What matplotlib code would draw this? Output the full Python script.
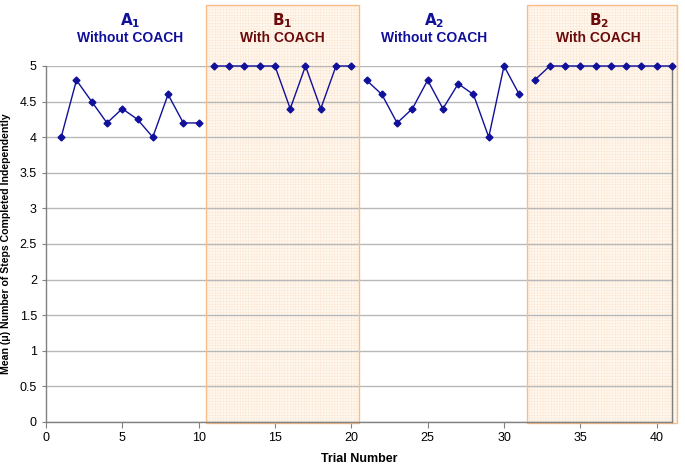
import matplotlib
matplotlib.use("Agg")
import matplotlib.pyplot as plt
from matplotlib.patches import Rectangle

plt.rcParams['font.family'] = ['Liberation Sans', 'DejaVu Sans']
plt.rcParams['hatch.linewidth'] = 0.3

trials_a1 = list(range(1, 11))
values_a1 = [4.0, 4.8, 4.5, 4.2, 4.4, 4.25, 4.0, 4.6, 4.2, 4.2]
trials_b1 = list(range(11, 21))
values_b1 = [5, 5, 5, 5, 5, 4.4, 5, 4.4, 5, 5]
trials_a2 = list(range(21, 32))
values_a2 = [4.8, 4.6, 4.2, 4.4, 4.8, 4.4, 4.75, 4.6, 4.0, 5.0, 4.6]
trials_b2 = list(range(32, 42))
values_b2 = [4.8, 5, 5, 5, 5, 5, 5, 5, 5, 5]

phase_spans = [(10.5, 20.5), (31.5, 41.3)]
phase_letters = ["A", "B", "A", "B"]
phase_subs = ["1", "1", "2", "2"]
phase_names = ["Without COACH", "With COACH", "Without COACH", "With COACH"]
phase_centers = [5.5, 15.5, 25.4, 36.2]

blue = '#10109A'
red = '#6B0A0A'

fig = plt.figure(figsize=(6.85, 4.67), dpi=100)
ax = fig.add_axes([0.067, 0.0964, 0.914, 0.7623])
ax.set_xlim(0, 41)
ax.set_ylim(0, 5)

for x0, x1 in phase_spans:
    ax.add_patch(Rectangle((x0, -0.02), x1 - x0, 5.87, facecolor='#FFF8F0',
                           edgecolor='#FBE3CC', hatch='++++++', linewidth=0,
                           clip_on=False, zorder=0))
    ax.add_patch(Rectangle((x0, -0.02), x1 - x0, 5.87, facecolor='none',
                           edgecolor='#F7BE8A', linewidth=1.0,
                           clip_on=False, zorder=1))

ax.set_yticks([i * 0.5 for i in range(11)])
ax.set_yticklabels(['0', '0.5', '1', '1.5', '2', '2.5', '3', '3.5', '4', '4.5', '5'])
ax.set_xticks(range(0, 41, 5))
ax.yaxis.grid(True, color='#B8B8B8', linewidth=1.0, zorder=0.5)
ax.set_axisbelow(True)
ax.tick_params(axis='both', labelsize=9, length=3, color='#808080')
ax.tick_params(axis='x', length=4, direction='out')

ax.spines['top'].set_visible(False)
for s in ['left', 'bottom', 'right']:
    ax.spines[s].set_color('#808080')
    ax.spines[s].set_linewidth(1.0)

for xs, ys in [(trials_a1, values_a1), (trials_b1, values_b1),
               (trials_a2, values_a2), (trials_b2, values_b2)]:
    ax.plot(xs, ys, color=blue, linewidth=1.0, marker='D', markersize=3.5,
            zorder=3, clip_on=False)

for i in range(4):
    c = blue if phase_letters[i] == 'A' else red
    ax.text(phase_centers[i], 5.64, rf"$\mathbf{{{phase_letters[i]}_{{{phase_subs[i]}}}}}$",
            ha='center', va='center', color=c, fontsize=11, fontweight='bold')
    ax.text(phase_centers[i], 5.39, phase_names[i], ha='center', va='center',
            color=c, fontsize=10, fontweight='bold')

ax.set_xlabel('Trial Number', fontsize=9, fontweight='bold', labelpad=6)
ax.set_ylabel('Mean (μ) Number of Steps Completed Independently', fontsize=7.6,
              fontweight='bold', labelpad=6)

fig.savefig('out.png', dpi=100)
